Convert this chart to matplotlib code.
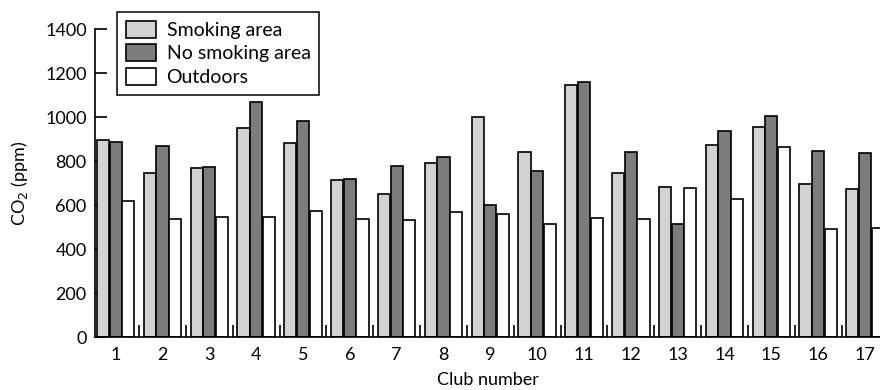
import matplotlib
matplotlib.use("Agg")
import matplotlib.pyplot as plt
import numpy as np
from matplotlib.ticker import FixedLocator

plt.rcParams['font.family'] = ['Lato', 'DejaVu Sans']

clubs = [str(i) for i in range(1, 18)]
smoking = [895, 745, 768, 952, 883, 714, 650, 792, 998, 840, 1145, 744, 682, 873, 953, 695, 673]
no_smoking = [888, 870, 774, 1068, 984, 720, 777, 818, 600, 755, 1158, 839, 514, 936, 1006, 844, 835]
outdoors = [620, 538, 545, 544, 574, 538, 533, 568, 558, 512, 540, 538, 679, 627, 864, 490, 497]
series_names = ["Smoking area", "No smoking area", "Outdoors"]
colors = ["#d2d2d2", "#7c7c7c", "#ffffff"]
yticks = [0, 200, 400, 600, 800, 1000, 1200, 1400]

fig = plt.figure(figsize=(8.8, 3.9), dpi=100)
ax = fig.add_axes([95/880, 1 - 337/390, 1 - 95/880, 308/390])

x = np.arange(1, len(clubs) + 1)
w = 0.27
for k, (vals, name, c) in enumerate(zip([smoking, no_smoking, outdoors], series_names, colors)):
    ax.bar(x + (k - 1) * w, vals, width=0.26, color=c, edgecolor="black",
           linewidth=1.2, label=name, zorder=2)

ax.set_xlim(0.56, 17.32)
ax.set_ylim(0, 1400)
ax.set_yticks(yticks)
ax.set_xticks(x)
ax.set_xticklabels(clubs)
ax.xaxis.set_minor_locator(FixedLocator(x + 0.5))
ax.set_axisbelow(True)

for s in ["top", "right"]:
    ax.spines[s].set_visible(False)
for s in ["left", "bottom"]:
    ax.spines[s].set_linewidth(1.2)

ax.tick_params(axis="x", which="major", length=0, pad=7, labelsize=13)
ax.tick_params(axis="x", which="minor", direction="in", length=8.5, width=1.2)
ax.tick_params(axis="y", which="major", direction="in", length=8.5, width=1.2, pad=6, labelsize=13)

ax.set_xlabel("Club number", fontsize=13)
ax.xaxis.set_label_coords(0.5, -0.115)
ax.set_ylabel("CO$_2$ (ppm)", fontsize=13)
ax.yaxis.set_label_coords(-0.083, 0.5)

leg = ax.legend(loc="upper left", bbox_to_anchor=(117/880, 1 - 12/390),
                bbox_transform=fig.transFigure, borderaxespad=0, fontsize=14,
                handlelength=1.55, handleheight=0.95, labelspacing=0.28,
                handletextpad=0.55, borderpad=0.45, fancybox=False,
                edgecolor="black", framealpha=1)
leg.get_frame().set_linewidth(1.1)

fig.savefig("out.png", dpi=100)
